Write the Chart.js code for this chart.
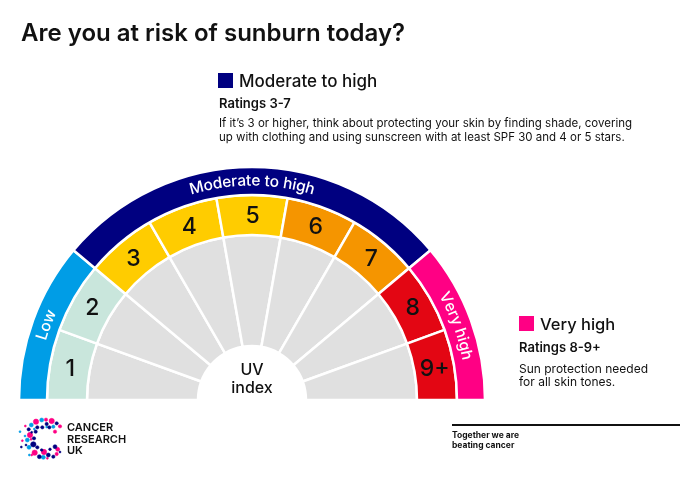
<!DOCTYPE html>
<html>
<head>
<meta charset="utf-8">
<script src="https://cdn.jsdelivr.net/npm/chart.js@4"></script>
<style>
  html, body { margin: 0; padding: 0; background: #fff; }
  body { width: 680px; height: 481px; position: relative; overflow: hidden; font-family: "Inter", sans-serif; color: #111; }
  canvas { position: absolute; left: 0; top: 0; }
  .t { position: absolute; white-space: nowrap; }
  .title { left: 21px; top: 17px; font-size: 24px; font-weight: 600; line-height: 32px; }
  .key { width: 15px; height: 15px; position: absolute; }
  .head { font-size: 16.5px; font-weight: 500; line-height: 22px; }
  .sub { font-size: 13px; font-weight: 600; line-height: 16px; }
  .body { font-size: 11.5px; line-height: 14px; }
  .logo { left: 67px; top: 422px; font-size: 11px; font-weight: 600; line-height: 11.5px; }
  .rule { position: absolute; left: 452px; top: 424px; width: 228px; height: 2px; background: #111; }
  .tag { left: 452px; top: 430px; font-size: 8.5px; font-weight: 700; line-height: 10px; }
</style>
</head>
<body>
<canvas id="uvchart" width="680" height="481"></canvas>

<div class="t title">Are you at risk of sunburn today?</div>

<div class="key" style="left:218px;top:73px;background:#000080"></div>
<div class="t head" style="left:239px;top:70px;font-size:17px">Moderate to high</div>
<div class="t sub" style="left:219px;top:95px">Ratings 3-7</div>
<div class="t body" style="left:219px;top:116px">If it’s 3 or higher, think about protecting your skin by finding shade, covering<br>up with clothing and using sunscreen with at least SPF 30 and 4 or 5 stars.</div>

<div class="key" style="left:519px;top:316px;background:#ff0084"></div>
<div class="t head" style="left:540px;top:313px">Very high</div>
<div class="t sub" style="left:519px;top:339px">Ratings 8-9+</div>
<div class="t body" style="left:519px;top:362px;font-size:12px;line-height:13px">Sun protection needed<br>for all skin tones.</div>

<svg style="position:absolute;left:0;top:405px" width="67" height="60" viewBox="0 0 201 180" stroke-width="1.6">
  <g fill="#ff0084" stroke="#ff0084">
    <circle cx="108" cy="50" r="8"/><circle cx="138" cy="44" r="5"/><circle cx="155" cy="48" r="8"/><circle cx="180" cy="64" r="5"/>
    <circle cx="165" cy="80" r="5"/><circle cx="90" cy="90" r="8"/><circle cx="76" cy="63" r="3"/><circle cx="67" cy="107" r="3"/>
    <circle cx="104" cy="143" r="8"/><circle cx="132" cy="141" r="8"/><circle cx="173" cy="133" r="6"/><circle cx="170" cy="147" r="5"/>
    <circle cx="142" cy="160" r="3"/><circle cx="95" cy="150" r="3"/><circle cx="93" cy="103" r="3"/>
  </g>
  <g fill="#009de6" stroke="#009de6">
    <circle cx="125" cy="45" r="6"/><circle cx="94" cy="60" r="6"/><circle cx="160" cy="65" r="5"/><circle cx="82" cy="105" r="6"/>
    <circle cx="87" cy="127" r="6"/><circle cx="60" cy="80" r="3"/><circle cx="75" cy="93" r="3"/><circle cx="130" cy="157" r="6"/>
    <circle cx="88" cy="150" r="3"/><circle cx="103" cy="72" r="3"/><circle cx="140" cy="66" r="3"/>
  </g>
  <g fill="#000080" stroke="#000080">
    <circle cx="140" cy="57" r="5"/><circle cx="170" cy="55" r="5"/><circle cx="86" cy="73" r="5"/><circle cx="107" cy="80" r="5"/>
    <circle cx="112" cy="67" r="5"/><circle cx="127" cy="67" r="5"/><circle cx="148" cy="67" r="5"/><circle cx="102" cy="100" r="5"/>
    <circle cx="100" cy="118" r="8"/><circle cx="112" cy="127" r="5"/><circle cx="125" cy="135" r="4"/><circle cx="118" cy="155" r="6"/>
    <circle cx="145" cy="150" r="6"/><circle cx="160" cy="155" r="5"/><circle cx="165" cy="125" r="6"/><circle cx="150" cy="133" r="4"/>
    <circle cx="64" cy="126" r="3"/><circle cx="78" cy="120" r="3"/><circle cx="180" cy="141" r="3"/><circle cx="95" cy="82" r="3"/>
  </g>
</svg>
<div class="t logo">CANCER<br>RESEARCH<br>UK</div>

<div class="rule"></div>
<div class="t tag">Together we are<br>beating cancer</div>

<script>
const bandLabels = ['Low', 'Moderate to high', 'Very high'];
const bandValues = [2, 5, 2];
const bandColours = ['#009de6', '#000080', '#ff0084'];

const indexLabels = ['1', '2', '3', '4', '5', '6', '7', '8', '9+'];
const indexValues = [1, 1, 1, 1, 1, 1, 1, 1, 1];
const indexColours = ['#c9e6dc', '#c9e6dc', '#ffcc00', '#ffcc00', '#ffcc00', '#f59500', '#f59500', '#e30613', '#e30613'];

const centreLabels = ['UV', 'index'];
const greyColour = '#e0e0e0';

// curved text, one letter at a time, clockwise round the arc
function drawArcText(ctx, text, arc, radius) {
    ctx.save();
    ctx.font = '500 15.5px Inter, sans-serif';
    ctx.fillStyle = '#fff';
    ctx.textAlign = 'center';
    ctx.textBaseline = 'middle';
    var total = ctx.measureText(text).width;
    var mid = (arc.startAngle + arc.endAngle) / 2;
    var angle = mid - total / 2 / radius;
    for (const ch of text) {
        var w = ctx.measureText(ch).width;
        var a = angle + w / 2 / radius;
        ctx.save();
        ctx.translate(arc.x + Math.cos(a) * radius, arc.y + Math.sin(a) * radius);
        ctx.rotate(a + Math.PI / 2);
        ctx.fillText(ch, 0, 0);
        ctx.restore();
        angle += w / radius;
    }
    ctx.restore();
}

const labelPlugin = {
    id: 'uvLabels',
    afterDatasetsDraw(chart) {
        const ctx = chart.ctx;
        const bands = chart.getDatasetMeta(0).data;
        bands.forEach((arc, i) => {
            drawArcText(ctx, bandLabels[i], arc, (arc.innerRadius + arc.outerRadius) / 2);
        });

        ctx.save();
        ctx.fillStyle = '#111';
        ctx.textAlign = 'center';
        ctx.textBaseline = 'middle';
        ctx.font = '500 23px Inter, sans-serif';
        chart.getDatasetMeta(1).data.forEach((arc, i) => {
            const p = arc.getCenterPoint();
            ctx.fillText(indexLabels[i], p.x + 0.5, p.y + 1);
        });
        const c = bands[0];
        ctx.font = '500 16px Inter, sans-serif';
        ctx.fillText(centreLabels[0], c.x, c.y - 30);
        ctx.fillText(centreLabels[1], c.x, c.y - 12);
        ctx.restore();
    }
};

new Chart(document.getElementById('uvchart'), {
    type: 'doughnut',
    data: {
        labels: indexLabels,
        datasets: [
            { data: bandValues, backgroundColor: bandColours, weight: 28 },
            { data: indexValues, backgroundColor: indexColours, weight: 40 },
            { data: indexValues, backgroundColor: greyColour, weight: 111 }
        ]
    },
    options: {
        responsive: false,
        animation: false,
        rotation: -90,
        circumference: 180,
        radius: 233,
        cutout: '23.18%',
        borderColor: '#fff',
        borderWidth: 2.5,
        layout: { padding: { left: 19, right: 195, top: 167, bottom: 81 } },
        plugins: { legend: { display: false }, tooltip: { enabled: false } }
    },
    plugins: [labelPlugin]
});
</script>
</body>
</html>
